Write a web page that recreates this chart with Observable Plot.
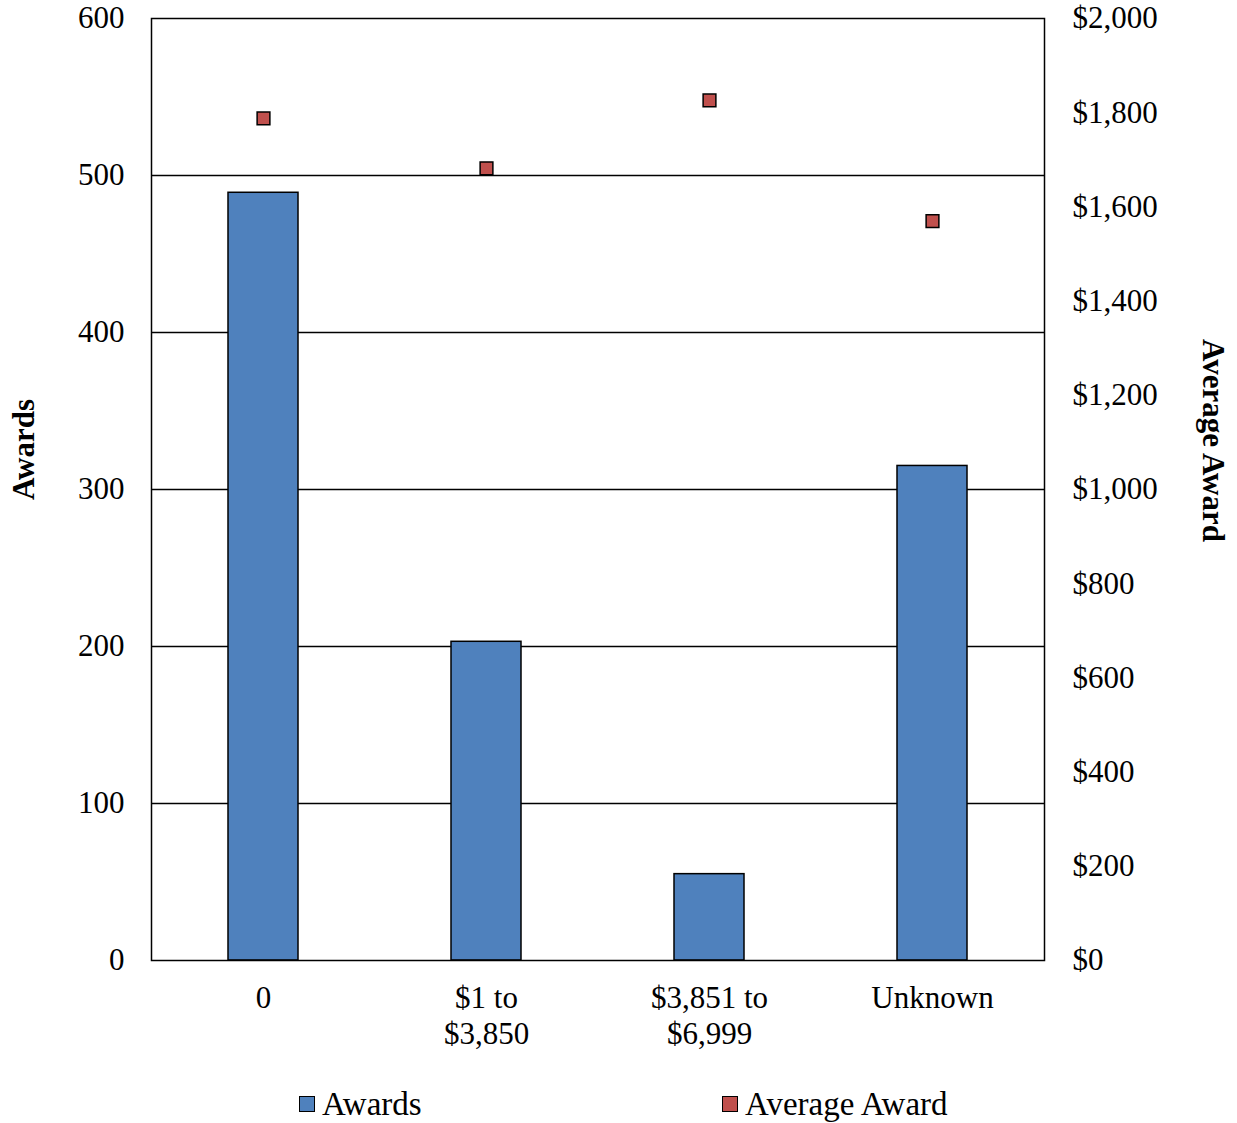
<!DOCTYPE html>
<html>
<head>
<meta charset="utf-8">
<script src="https://cdn.jsdelivr.net/npm/d3@7"></script>
<script src="https://cdn.jsdelivr.net/npm/@observablehq/plot@0.6"></script>
<style>
  body { margin: 0; background: #fff; font-family: "Liberation Serif", "Times New Roman", serif; }
  #wrap { position: relative; width: 1237px; }
  #legend { position: relative; width: 1237px; height: 53px; font-size: 33px; color: #000; }
  .item { position: absolute; top: 15px; display: flex; align-items: center; height: 38px; }
  .sw { width: 16px; height: 16px; border: 1.5px solid #000; box-sizing: border-box; margin-right: 7px; }
</style>
</head>
<body>
<div id="wrap"></div>
<script>
const categories = ["0", "$1 to $3,850", "$3,851 to $6,999", "Unknown"];
const tickLabels = ["0", "$1 to\n$3,850", "$3,851 to\n$6,999", "Unknown"];
const awards = [489, 203, 55, 315];
const averageAward = [1788, 1682, 1826, 1570];
const leftTicks = [0, 100, 200, 300, 400, 500, 600];
const rightTicks = [0, 200, 400, 600, 800, 1000, 1200, 1400, 1600, 1800, 2000];

const blue = "#4F81BD";
const red = "#C0504D";
const k = 600 / 2000;

const data = categories.map((c, i) => ({cat: c, label: tickLabels[i], awards: awards[i], avg: averageAward[i]}));
const labelOf = new Map(data.map(d => [d.cat, d.label]));

const chart = Plot.plot({
  width: 1237,
  height: 1070,
  marginLeft: 151,
  marginRight: 193,
  marginTop: 18,
  marginBottom: 110,
  style: {fontFamily: "Liberation Serif, Times New Roman, serif", fontSize: "31px", color: "#000", background: "#fff", overflow: "visible"},
  x: {domain: categories, paddingInner: 0.686, paddingOuter: 0.343},
  y: {domain: [0, 600]},
  marks: [
    Plot.gridY(leftTicks.filter(t => t > 0 && t < 600), {stroke: "#000", strokeOpacity: 1, strokeWidth: 1.5}),
    Plot.barY(data, {x: "cat", y: "awards", fill: blue, stroke: "#000", strokeWidth: 1.5}),
    Plot.dot(data, {x: "cat", y: d => d.avg * k, symbol: "square", r: 7.2, fill: red, stroke: "#000", strokeWidth: 1.5}),
    Plot.frame({stroke: "#000", strokeWidth: 1.5}),
    Plot.axisY(leftTicks, {anchor: "left", tickSize: 0, tickPadding: 27, label: null, fill: "#000"}),
    Plot.axisY(rightTicks.map(v => v * k), {anchor: "right", tickSize: 0, tickPadding: 28, label: null, fill: "#000",
      tickFormat: v => "$" + d3.format(",")(Math.round(v / k))}),
    Plot.axisX({anchor: "bottom", tickSize: 0, tickPadding: 22, label: null, fill: "#000", lineHeight: 1.16,
      tickFormat: c => labelOf.get(c)}),
    Plot.text(["Awards"], {frameAnchor: "left", dx: -127, dy: -40, rotate: -90, fontWeight: "bold", fill: "#000", textAnchor: "middle"}),
    Plot.text(["Average Award"], {frameAnchor: "right", dx: 168, dy: -49, rotate: 90, fontWeight: "bold", fill: "#000", textAnchor: "middle"})
  ]
});
document.getElementById("wrap").appendChild(chart);

const legend = document.createElement("div");
legend.id = "legend";
legend.innerHTML = `
  <div class="item" style="left:299px"><div class="sw" style="background:${blue}"></div><span>Awards</span></div>
  <div class="item" style="left:722px"><div class="sw" style="background:${red}"></div><span>Average Award</span></div>`;
document.getElementById("wrap").appendChild(legend);
</script>
</body>
</html>
